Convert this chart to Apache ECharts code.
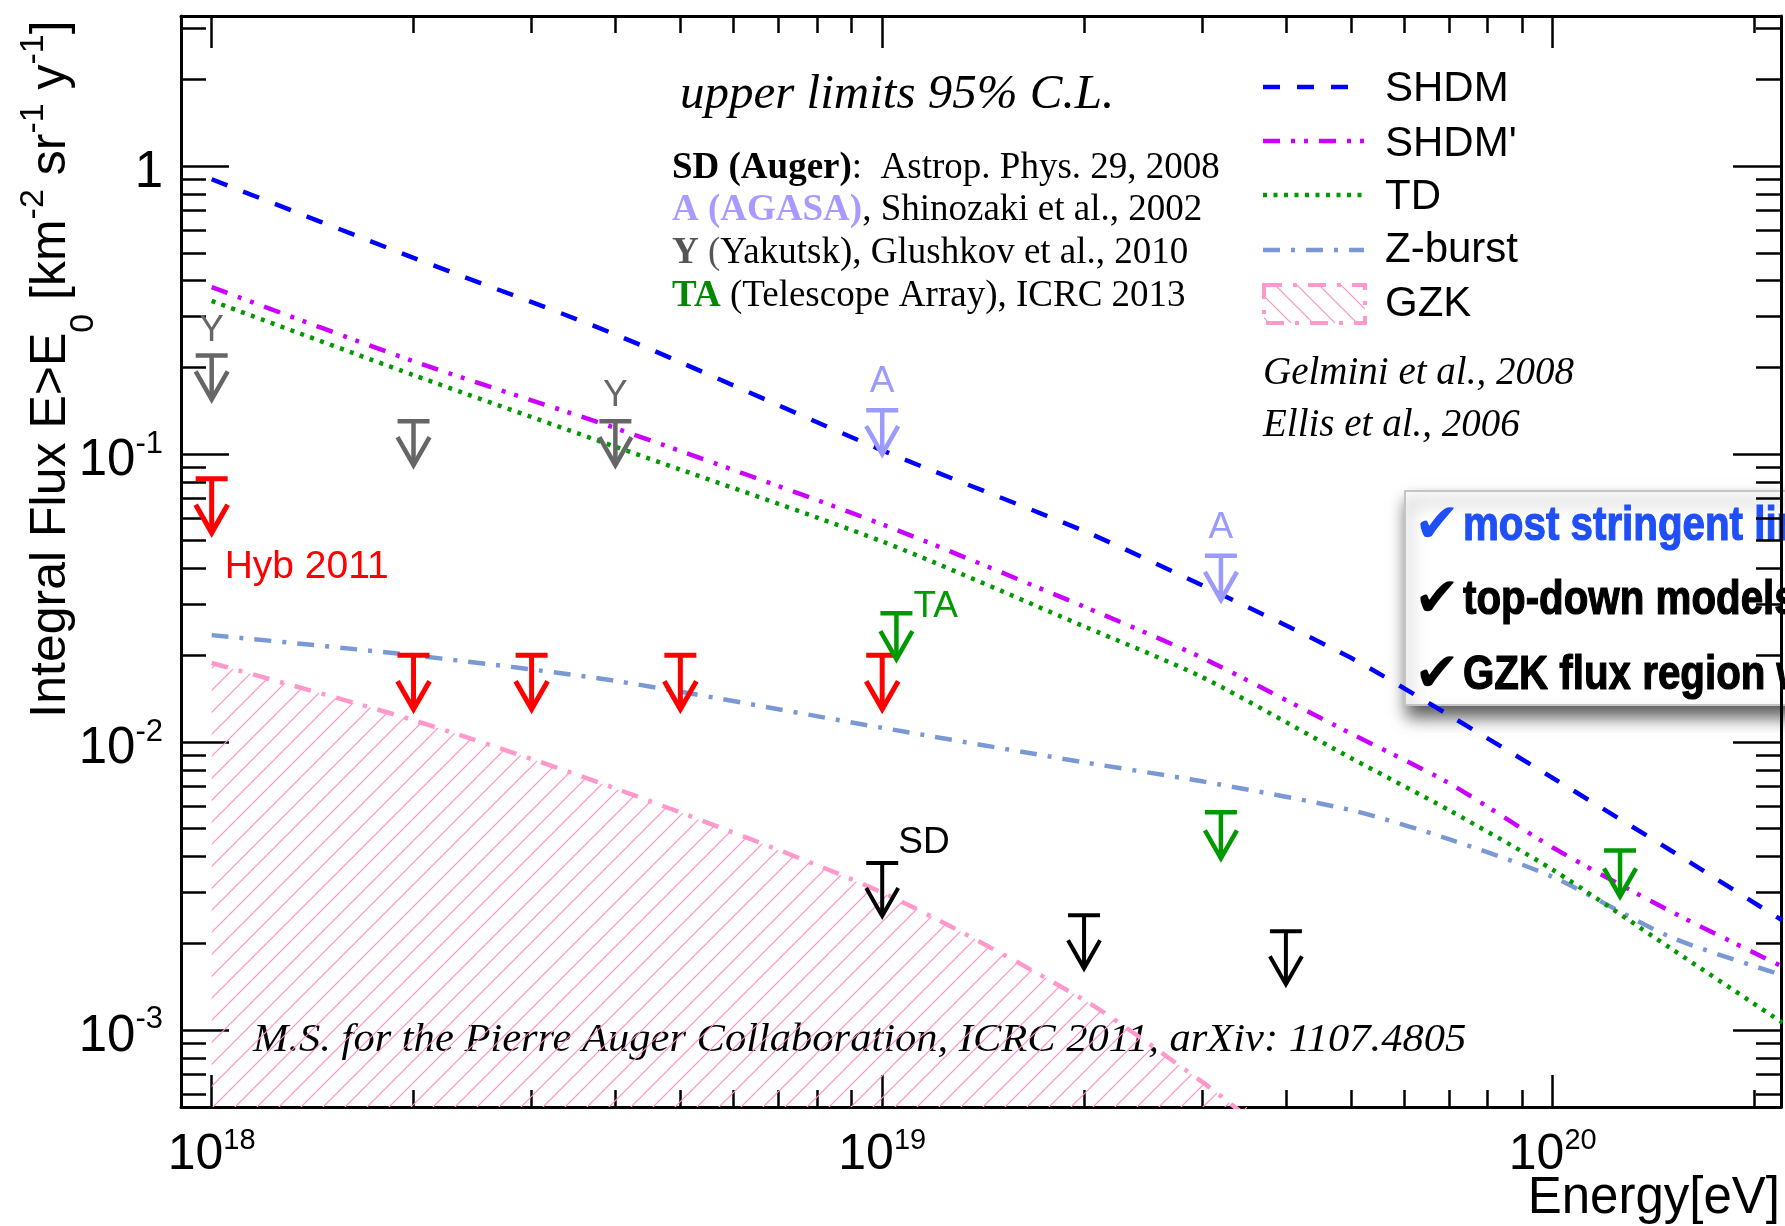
<!DOCTYPE html>
<html>
<head>
<meta charset="utf-8">
<title>Integral flux upper limits</title>
<script src="https://cdn.jsdelivr.net/npm/echarts@6.0.0/dist/echarts.min.js"></script>
<style>
  html, body { margin: 0; padding: 0; background: #ffffff; }
  #chart { width: 1785px; height: 1226px; }
</style>
</head>
<body>
<div id="chart"></div>
<script>
// ---- axis ranges and ticks (eV, km^-2 sr^-1 yr^-1) ----
const energyRange = [9e17, 2.19e20];
const fluxRange = [5.4e-4, 3.32];
const energyMajorTicks = [1e18, 1e19, 1e20];
const energyMinorTicks = [2e18, 3e18, 4e18, 5e18, 6e18, 7e18, 8e18, 9e18,
                          2e19, 3e19, 4e19, 5e19, 6e19, 7e19, 8e19, 9e19, 2e20];
const fluxMajorTicks = [1e-3, 1e-2, 1e-1, 1];
const fluxMinorTicks = [6e-4, 7e-4, 8e-4, 9e-4,
                        2e-3, 3e-3, 4e-3, 5e-3, 6e-3, 7e-3, 8e-3, 9e-3,
                        2e-2, 3e-2, 4e-2, 5e-2, 6e-2, 7e-2, 8e-2, 9e-2,
                        0.2, 0.3, 0.4, 0.5, 0.6, 0.7, 0.8, 0.9, 2, 3];

// ---- model predictions ----
const modelEnergy   = [1e18, 2e18, 4e18, 1e19, 2e19, 3e19, 5e19, 7e19, 1e20, 1.5e20, 2.2e20];
const shdmFlux      = [0.90, 0.48, 0.26, 0.103, 0.054, 0.035, 0.0196, 0.0124, 0.0075, 0.0042, 0.0024];
const shdmPrimeFlux = [0.38, 0.21, 0.123, 0.057, 0.0295, 0.0196, 0.0107, 0.0072, 0.0043, 0.00258, 0.00166];
const tdFlux        = [0.34, 0.188, 0.106, 0.0497, 0.0252, 0.0168, 0.0088, 0.0058, 0.0036, 0.00192, 0.00106];
const zburstFlux    = [0.0235, 0.0200, 0.0163, 0.0112, 0.0085, 0.0073, 0.0058, 0.0046, 0.0034, 0.0021, 0.00155];
const gzkEnergy     = [1e18, 2e18, 4e18, 1e19, 2e19, 3e19, 3.5e19];
const gzkFlux       = [0.0188, 0.0119, 0.0069, 0.0030, 0.00127, 0.00066, 0.00050];
const modelNames    = ['SHDM', "SHDM'", 'TD', 'Z-burst', 'GZK'];

// ---- photon flux upper limits (95% C.L.) ----
const hybEnergy   = [1e18, 2e18, 3e18, 5e18, 1e19];
const hybLimit    = [0.082, 0.020, 0.020, 0.020, 0.020];
const hybTags     = ['Hyb 2011', '', '', '', ''];
const yakEnergy   = [1e18, 2e18, 4e18];
const yakLimit    = [0.22, 0.130, 0.130];
const yakTags     = ['Y', '', 'Y'];
const agasaEnergy = [1e19, 3.2e19];
const agasaLimit  = [0.142, 0.0443];
const agasaTags   = ['A', 'A'];
const taEnergy    = [1.05e19, 3.2e19, 1.26e20];
const taLimit     = [0.028, 0.0057, 0.0042];
const taTags      = ['TA', '', ''];
const sdEnergy    = [1e19, 2e19, 4e19];
const sdLimit     = [0.0038, 0.0025, 0.0022];
const sdTags      = ['SD', '', ''];

// ---- summary box lines ----
const summaryLines = ['most stringent limits', 'top-down models disfavoured', 'GZK flux region within reach'];

const SANS = '"Liberation Sans", Arial, Helvetica, sans-serif';
const SERIF = '"Liberation Serif", "Times New Roman", Times, serif';
const L10 = Math.log10;
const pairs = (xs, ys) => xs.map((x, i) => [L10(x), L10(ys[i])]);

// diagonal hatch tile; dir > 0 draws "/", otherwise "\"
function hatchTile(size, color, dir) {
  const c = document.createElement('canvas');
  c.width = size; c.height = size;
  const g = c.getContext('2d');
  g.strokeStyle = color;
  g.lineWidth = 1.2;
  g.beginPath();
  for (let k = -1; k <= 1; k++) {
    if (dir > 0) { g.moveTo(k * size - 2, size + 2); g.lineTo(k * size + size + 2, -2); }
    else { g.moveTo(k * size - 2, -2); g.lineTo(k * size + size + 2, size + 2); }
  }
  g.stroke();
  return c;
}
const plotHatch = hatchTile(22, '#ff8fc4', 1);
const keyHatch = hatchTile(22, '#ff8fc4', -1);

// model curve look
const looks = {
  'SHDM':    { color: '#0000ff', dash: [17, 17] },
  "SHDM'":   { color: '#cc00ff', dash: [17, 11, 4, 9, 4, 11] },
  'TD':      { color: '#009900', dash: [4, 6.5] },
  'Z-burst': { color: '#7a99d4', dash: [17, 11, 4, 11] },
  'GZK':     { color: '#ff99cc', dash: [17, 11, 4, 11] }
};

function curve(name, energy, flux, extra) {
  return Object.assign({
    type: 'line', name: name, xAxisIndex: 0, yAxisIndex: 0,
    data: pairs(energy, flux), smooth: 0.25, showSymbol: false, symbol: 'none',
    lineStyle: { color: looks[name].color, width: 4.5, type: looks[name].dash, cap: 'butt' },
    z: 3, silent: true
  }, extra || {});
}

// upper-limit arrow: bar at the limit, shaft and open head pointing down
function limits(name, energy, limit, tags, look) {
  return {
    type: 'custom', name: name, xAxisIndex: 0, yAxisIndex: 0, z: 6, silent: true,
    data: pairs(energy, limit),
    renderItem: function (params, api) {
      const p = api.coord([api.value(0), api.value(1)]);
      const x = p[0], y = p[1];
      const tip = y + look.len - 4;
      const st = { stroke: look.color, lineWidth: look.width, fill: 'none', lineCap: 'butt', lineJoin: 'miter' };
      const kids = [
        { type: 'line', shape: { x1: x - 16, y1: y, x2: x + 16, y2: y }, style: st },
        { type: 'line', shape: { x1: x, y1: y, x2: x, y2: tip }, style: st },
        { type: 'polyline', shape: { points: [[x - 16, tip - 28], [x, tip], [x + 16, tip - 28]] }, style: st }
      ];
      const tag = tags[params.dataIndex];
      if (tag) {
        kids.push({
          type: 'text', x: x + look.tagDx, y: y + look.tagDy,
          style: {
            text: tag, fill: look.color, font: look.tagFont,
            align: look.tagAlign, verticalAlign: 'middle',
            textAlign: look.tagAlign, textVerticalAlign: 'middle'
          }
        });
      }
      return { type: 'group', children: kids };
    }
  };
}

const tagFont = '37px ' + SANS;

function xAxis(pos, ticks, len, showLine, withLabels) {
  return {
    type: 'value', position: pos, gridIndex: 0,
    min: L10(energyRange[0]), max: L10(energyRange[1]),
    axisLine: { show: showLine, onZero: false, lineStyle: { color: '#000', width: 3 } },
    axisTick: { show: true, inside: true, length: len, customValues: ticks.map(L10),
                lineStyle: { color: '#000', width: 2.5 } },
    axisLabel: withLabels ? {
      show: true, margin: 19, customValues: ticks.map(L10),
      formatter: v => '{m|10}{s|' + Math.round(v) + '}',
      rich: {
        m: { fontSize: 50, lineHeight: 50, fontFamily: SANS, color: '#000', verticalAlign: 'top', padding: [4, 0, 0, 0] },
        s: { fontSize: 29, lineHeight: 29, fontFamily: SANS, color: '#000', verticalAlign: 'top' }
      }
    } : { show: false },
    splitLine: { show: false }, splitArea: { show: false }
  };
}

function yAxis(pos, ticks, len, showLine, withLabels) {
  return {
    type: 'value', position: pos, gridIndex: 0,
    min: L10(fluxRange[0]), max: L10(fluxRange[1]),
    axisLine: { show: showLine, onZero: false, lineStyle: { color: '#000', width: 3 } },
    axisTick: { show: true, inside: true, length: len, customValues: ticks.map(L10),
                lineStyle: { color: '#000', width: 2.5 } },
    axisLabel: withLabels ? {
      show: true, margin: 18, customValues: ticks.map(L10),
      formatter: v => { const n = Math.round(v); return n === 0 ? '{m|1}' : '{m|10}{s|' + n + '}'; },
      rich: {
        m: { fontSize: 51, lineHeight: 51, fontFamily: SANS, color: '#000', verticalAlign: 'top', padding: [7, 0, 0, 0] },
        s: { fontSize: 31, lineHeight: 31, fontFamily: SANS, color: '#000', verticalAlign: 'top' }
      }
    } : { show: false },
    splitLine: { show: false }, splitArea: { show: false }
  };
}

// ---- annotation blocks ----
function txt(x, y, text, font, color, extra) {
  return Object.assign({
    type: 'text', x: x, y: y,
    style: { text: text, font: font, fill: color, align: 'left', verticalAlign: 'middle',
             textAlign: 'left', textVerticalAlign: 'middle' }
  }, extra || {});
}

const refRich = {
  b:  { fontFamily: SERIF, fontSize: 37, fontWeight: 'bold', fill: '#000', color: '#000' },
  n:  { fontFamily: SERIF, fontSize: 37, fill: '#000', color: '#000' },
  ba: { fontFamily: SERIF, fontSize: 37, fontWeight: 'bold', fill: '#aa99ff', color: '#aa99ff' },
  by: { fontFamily: SERIF, fontSize: 37, fontWeight: 'bold', fill: '#555', color: '#555' },
  gy: { fontFamily: SERIF, fontSize: 37, fill: '#555', color: '#555' },
  bt: { fontFamily: SERIF, fontSize: 37, fontWeight: 'bold', fill: '#008800', color: '#008800' }
};
function refLine(y, text) {
  return { type: 'text', x: 672, y: y,
           style: { text: text, rich: refRich, font: '37px ' + SERIF, fill: '#000',
                    align: 'left', verticalAlign: 'middle', textAlign: 'left', textVerticalAlign: 'middle' } };
}

const keyX1 = 1263, keyX2 = 1364, keyTextX = 1385;
const keyRows = [87, 141, 195, 250];
const keyGroup = [];
modelNames.slice(0, 4).forEach((nm, i) => {
  keyGroup.push({ type: 'line', shape: { x1: keyX1, y1: keyRows[i], x2: keyX2, y2: keyRows[i] },
                  style: { stroke: looks[nm].color, lineWidth: 4.5, lineDash: looks[nm].dash, lineCap: 'butt' } });
});
keyGroup.push({ type: 'rect', shape: { x: 1264, y: 285, width: 101, height: 38 },
                style: { fill: { image: keyHatch, repeat: 'repeat' }, stroke: looks['GZK'].color,
                         lineWidth: 4, lineDash: [18, 11, 4, 11] } });
[89, 144, 197, 250, 304].forEach((y, i) => keyGroup.push(txt(keyTextX, y, modelNames[i], '42px ' + SANS, '#000')));

const yTitleRich = {
  m:   { fontFamily: SANS, fontSize: 50, lineHeight: 50, padding: [9, 0, 0, 0], verticalAlign: 'top', fill: '#000', color: '#000' },
  sup: { fontFamily: SANS, fontSize: 34, lineHeight: 34, verticalAlign: 'top', fill: '#000', color: '#000' },
  sub: { fontFamily: SANS, fontSize: 34, lineHeight: 34, padding: [50, 0, 0, 0], verticalAlign: 'top', fill: '#000', color: '#000' }
};

const summaryFont = 'bold 48px "Liberation Sans", Arial, sans-serif';
const checkFont = '55px "DejaVu Sans", sans-serif';
const summaryColors = ['#1f4ff7', '#000000', '#000000'];
const summaryRows = [527, 601, 676];
const summaryGroup = [
  { type: 'rect', shape: { x: 1405, y: 491, width: 420, height: 214 },
    style: { fill: '#ffffff', stroke: '#c4c4c4', lineWidth: 2,
             shadowBlur: 16, shadowColor: 'rgba(0,0,0,0.65)', shadowOffsetX: 3, shadowOffsetY: 11 } }
];
summaryLines.forEach((s, i) => {
  summaryGroup.push(txt(1414, summaryRows[i] + 1, '\u2714', checkFont, summaryColors[i]));
  summaryGroup.push({
    type: 'text', x: 1463, y: summaryRows[i], scaleX: 0.84,
    style: { text: s, font: summaryFont, fill: summaryColors[i], stroke: summaryColors[i], lineWidth: 1.2,
             align: 'left', verticalAlign: 'middle', textAlign: 'left', textVerticalAlign: 'middle' }
  });
});

const option = {
  animation: false,
  backgroundColor: '#ffffff',
  grid: { left: 181, right: 4, top: 16, bottom: 119, containLabel: false, outerBoundsMode: 'none', show: false },
  xAxis: [
    xAxis('bottom', energyMajorTicks, 32, true, true),
    xAxis('bottom', energyMinorTicks, 17, false, false),
    xAxis('top', energyMajorTicks, 32, true, false),
    xAxis('top', energyMinorTicks, 17, false, false)
  ],
  yAxis: [
    yAxis('left', fluxMajorTicks, 48, true, true),
    yAxis('left', fluxMinorTicks, 25, false, false),
    yAxis('right', fluxMajorTicks, 48, true, false),
    yAxis('right', fluxMinorTicks, 25, false, false)
  ],
  series: [
    curve('GZK', gzkEnergy, gzkFlux, {
      z: 2,
      areaStyle: { origin: 'start', color: { image: plotHatch, repeat: 'repeat' }, opacity: 1 }
    }),
    curve('Z-burst', modelEnergy, zburstFlux),
    curve('TD', modelEnergy, tdFlux),
    curve("SHDM'", modelEnergy, shdmPrimeFlux),
    curve('SHDM', modelEnergy, shdmFlux),
    limits('Hyb 2011', hybEnergy, hybLimit, hybTags,
           { color: '#ff0000', width: 5, len: 58, tagDx: 13, tagDy: 88, tagAlign: 'left', tagFont: '39px ' + SANS }),
    limits('Yakutsk', yakEnergy, yakLimit, yakTags,
           { color: '#666666', width: 4.5, len: 48, tagDx: 0, tagDy: -25, tagAlign: 'center', tagFont: tagFont }),
    limits('AGASA', agasaEnergy, agasaLimit, agasaTags,
           { color: '#9a9aff', width: 4.5, len: 48, tagDx: 0, tagDy: -28, tagAlign: 'center', tagFont: tagFont }),
    limits('TA', taEnergy, taLimit, taTags,
           { color: '#009900', width: 4.5, len: 50, tagDx: 17, tagDy: -6, tagAlign: 'left', tagFont: tagFont }),
    limits('SD', sdEnergy, sdLimit, sdTags,
           { color: '#000000', width: 4, len: 57, tagDx: 16, tagDy: -20, tagAlign: 'left', tagFont: tagFont })
  ],
  graphic: [
    { type: 'group', z: 50, silent: true, children: [
      txt(680, 95, 'upper limits 95% C.L.', 'italic 49px ' + SERIF, '#000'),
      refLine(168, '{b|SD (Auger)}{n|:  Astrop. Phys. 29, 2008}'),
      refLine(210, '{ba|A (AGASA)}{n|, Shinozaki et al., 2002}'),
      refLine(253, '{by|Y }{gy|(}{n|Yakutsk), Glushkov et al., 2010}'),
      refLine(296, '{bt|TA}{n| (Telescope Array), ICRC 2013}'),
      txt(1263, 374, 'Gelmini et al., 2008', 'italic 39px ' + SERIF, '#000'),
      txt(1263, 426, 'Ellis et al., 2006', 'italic 39px ' + SERIF, '#000'),
      txt(253, 1040, 'M.S. for the Pierre Auger Collaboration, ICRC 2011, arXiv: 1107.4805', 'italic 41px ' + SERIF, '#000',
          { scaleX: 1.037 }),
      { type: 'text', x: 1780, y: 1199,
        style: { text: 'Energy[eV]', font: '51px ' + SANS, fill: '#000', align: 'right', verticalAlign: 'middle',
                 textAlign: 'right', textVerticalAlign: 'middle' } },
      { type: 'text', x: 42, y: 369, rotation: Math.PI / 2,
        style: { text: '{m|Integral Flux E>E}{sub|0}{m| [km}{sup|-2}{m| sr}{sup|-1}{m| y}{sup|-1}{m|]}',
                 rich: yTitleRich, font: '50px ' + SANS, fill: '#000',
                 align: 'center', verticalAlign: 'middle', textAlign: 'center', textVerticalAlign: 'middle' } }
    ] },
    { type: 'group', z: 60, silent: true, children: keyGroup },
    { type: 'group', z: 100, silent: true, children: summaryGroup }
  ]
};

const chart = echarts.init(document.getElementById('chart'), null, { renderer: 'canvas' });
chart.setOption(option);
</script>
</body>
</html>
